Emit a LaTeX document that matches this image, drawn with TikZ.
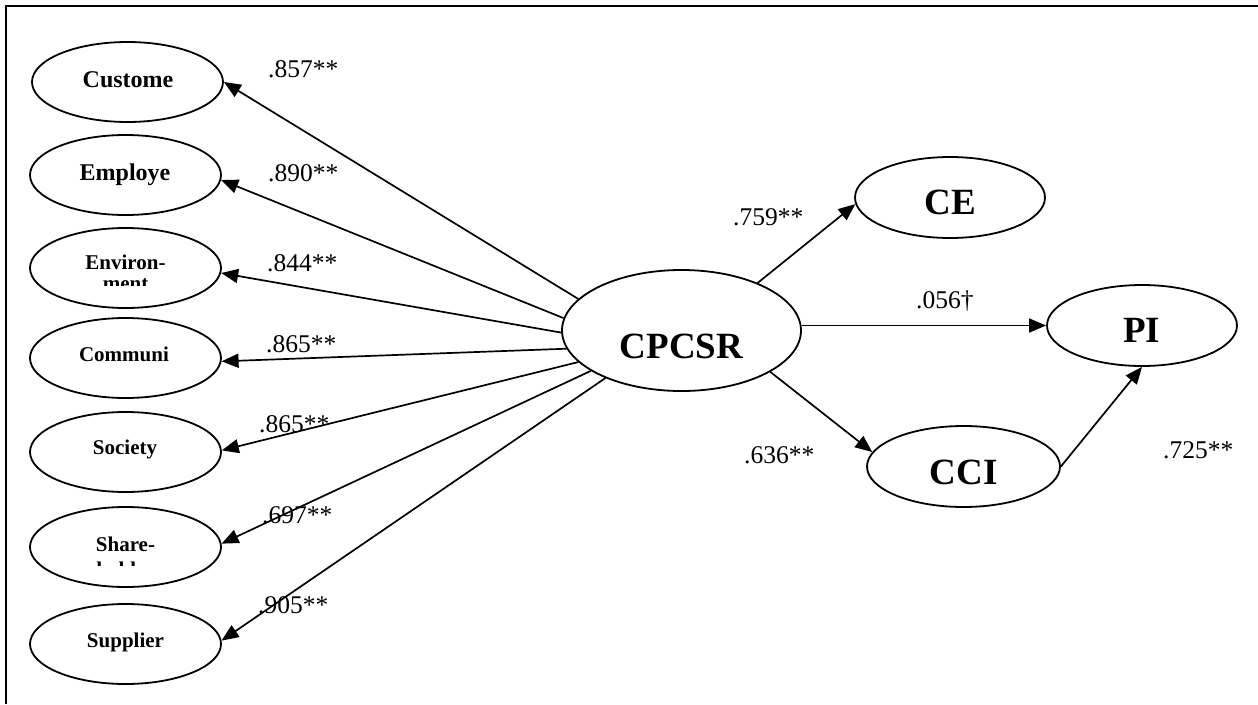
\documentclass[tikz,border=0pt]{standalone}
\usepackage{fontspec}
\setmainfont{Liberation Serif}
\usetikzlibrary{shapes.geometric,arrows.meta}
\tikzset{
  ell/.style={draw, ellipse, line width=1.8pt, inner sep=0pt},
  smallell/.style={ell, minimum width=191pt, minimum height=80pt},
  bigell/.style={ell, minimum width=190pt, minimum height=81pt},
  arr/.style={-{Triangle[length=17pt,width=14pt]}, line width=1.7pt},
  coef/.style={anchor=base west, inner sep=0pt, font=\fontsize{25.5}{29}\selectfont},
  lblA/.style={anchor=base, inner sep=0pt, font=\fontsize{24}{28}\selectfont\bfseries},
  lblB/.style={anchor=base, inner sep=0pt, font=\fontsize{21}{25}\selectfont\bfseries},
  lblC/.style={anchor=base, inner sep=0pt, font=\fontsize{37}{42}\selectfont\bfseries},
}
\begin{document}
\begin{tikzpicture}[x=1pt,y=-1pt]
\useasboundingbox (0,0) rectangle (1258,704);
% frame (top and left edges visible)
\draw[line width=2.2pt] (6,704) -- (6,6) -- (1258,6);

% left ellipses
\node[smallell] (cust) at (127.5,82) {};
\node[smallell] (emp)  at (125.5,175) {};
\node[smallell] (env)  at (125.5,268) {};
\node[smallell] (com)  at (125.5,358) {};
\node[smallell] (soc)  at (125.5,452) {};
\node[smallell] (sha)  at (125.5,547) {};
\node[smallell] (sup)  at (125.5,644) {};

\node[lblA] (tcust) at (128,87) {Custome};
\node[lblA] (temp)  at (125,180) {Employe};
\begin{scope}
  \clip (40,240) rectangle (210,285);
  \node[lblB] (tenv1) at (125.5,269) {Environ-};
  \node[lblB] (tenv2) at (125.5,290) {ment};
\end{scope}
\node[lblB] (tcom) at (124,361) {Communi};
\node[lblB] (tsoc) at (125,454) {Society};
\begin{scope}
  \clip (40,520) rectangle (210,565);
  \node[lblB] (tsha1) at (125.5,551) {Share-};
  \node[lblB] (tsha2) at (125.5,576) {holder};
\end{scope}
\node[lblB] (tsup) at (125.5,647) {Supplier};

% central and right ellipses
\node[ell, minimum width=239pt, minimum height=121pt] (cpcsr) at (681.5,330.5) {};
\node[bigell] (ce)  at (950,197.5) {};
\node[bigell] (pi)  at (1142,325.5) {};
\node[bigell, minimum width=193pt] (cci) at (963.5,466.5) {};

\node[lblC] (tcpcsr) at (681.5,358) {CPCSR};
\node[lblC] (tce)    at (950,214) {CE};
\node[lblC] (tpi)    at (1141.5,342) {PI};
\node[lblC] (tcci)   at (963.5,484) {CCI};

% connectors
\draw[arr] (cpcsr.163) -- (cust.east);
\draw[arr] (cpcsr.174) -- (emp.-3);
\draw[arr] (cpcsr.181) -- (env.-3);
\draw[arr] (cpcsr.189) -- (com.-2);
\draw[arr] (cpcsr.197) -- (soc.1);
\draw[arr] (cpcsr.204) -- (sha.2.5);
\draw[arr] (cpcsr.212) -- (sup.2.5);

\draw[arr] (cpcsr.32) -- (ce.184);
\draw[arr] (cpcsr.east |- pi.west) -- (pi.west);
\draw[arr] (cpcsr.-25) -- (cci.171);
\draw[arr] (cci.east) -- (pi.south);

% coefficients
\node[coef] (c1) at (268,77) {.857**};
\node[coef] (c2) at (268,181) {.890**};
\node[coef] (c3) at (267,271) {.844**};
\node[coef] (c4) at (266,352) {.865**};
\node[coef] (c5) at (259,432) {.865**};
\node[coef] (c6) at (262,523) {.697**};
\node[coef] (c7) at (258,613) {.905**};
\node[coef] (c8) at (733,225) {.759**};
\node[coef] (c9) at (916,308) {.056†};
\node[coef] (c10) at (744,463) {.636**};
\node[coef] (c11) at (1163,458) {.725**};
\end{tikzpicture}
\end{document}
